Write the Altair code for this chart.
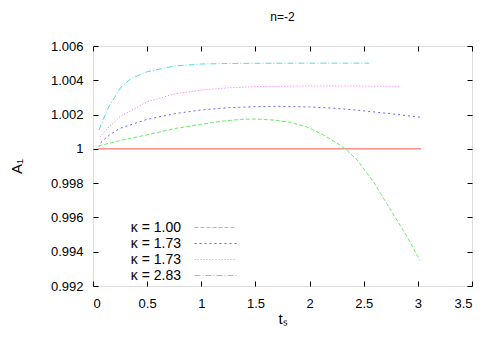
import altair as alt
import pandas as pd

# ---- data ----
green_t = [0.05, 0.25, 0.5, 0.75, 1.0, 1.2, 1.36, 1.5, 1.67, 1.82, 1.97, 2.13, 2.28, 2.33, 2.44, 2.59,
           2.74, 2.9, 3.02]
green_a = [1.00017, 1.00048, 1.00082, 1.00118, 1.00143, 1.00162, 1.00172, 1.00174, 1.00168, 1.00155,
           1.00129, 1.00081, 1.00022, 1.0, 0.99935, 0.99808, 0.99653, 0.99488, 0.99348]

blue_t = [0.07, 0.15, 0.25, 0.5, 0.75, 1.0, 1.25, 1.5, 1.75, 2.0, 2.2, 2.42, 2.75, 3.03]
blue_a = [1.00036, 1.0008, 1.0012, 1.00172, 1.00205, 1.00227, 1.0024, 1.00246, 1.00248, 1.00244, 1.00238,
          1.00227, 1.00205, 1.00184]

mag_t = [0.065, 0.15, 0.25, 0.5, 0.75, 1.0, 1.25, 1.5, 2.0, 2.5, 2.85]
mag_a = [1.00071, 1.0013, 1.00188, 1.00275, 1.0032, 1.00343, 1.00356, 1.00363, 1.00367, 1.00366, 1.00365]

cyan_t = [0.055, 0.1, 0.15, 0.25, 0.35, 0.5, 0.75, 1.0, 1.25, 1.5, 2.0, 2.55]
cyan_a = [1.0011, 1.0018, 1.0025, 1.00353, 1.0041, 1.0045, 1.00483, 1.00495, 1.00498, 1.00499, 1.005, 1.005]

red_t = [0.05, 3.03]
red_a = [1.0, 1.0]

series_keys = ["k1", "k2", "k3", "k4"]
series_labels = ["κ = 1.00", "κ = 1.73", "κ = 1.73", "κ = 2.83"]
series_colors = ["#66ee66", "#6666ff", "#ff66ff", "#55dddd"]
series_dash = [[4, 2], [2, 3], [1, 2], [6, 2, 1, 2]]

x_ticks = [0, 0.5, 1, 1.5, 2, 2.5, 3, 3.5]
y_ticks = [0.992, 0.994, 0.996, 0.998, 1.0, 1.002, 1.004, 1.006]

rows = []
for key, ts, As in zip(series_keys, [green_t, blue_t, mag_t, cyan_t], [green_a, blue_a, mag_a, cyan_a]):
    for t, a in zip(ts, As):
        rows.append({"ts": t, "A": a, "series": key})
df = pd.DataFrame(rows)
df_red = pd.DataFrame({"ts": red_t, "A": red_a})

FONT = "Liberation Sans"
xscale = alt.Scale(domain=[0, 3.5], nice=False, zero=False)
yscale = alt.Scale(domain=[0.992, 1.006], nice=False, zero=False)

label_expr = "[" + ",".join("'%s'" % s for s in series_labels) + "][indexof([" + \
    ",".join("'%s'" % k for k in series_keys) + "], datum.value)]"

common_axis = dict(domain=False, grid=False, tickColor="black", tickSize=5, tickWidth=1,
                   labelFont=FONT, labelFontSize=13, labelColor="black",
                   titleFont=FONT, titleFontSize=15, titleFontWeight="normal", titleColor="black")

red = alt.Chart(df_red).mark_line(color="#ff5555", strokeWidth=1).encode(
    x=alt.X("ts:Q", scale=xscale,
            axis=alt.Axis(values=x_ticks, format="~g", title="tₛ", orient="bottom", offset=-5,
                          labelPadding=11, titlePadding=1, **common_axis)),
    y=alt.Y("A:Q", scale=yscale,
            axis=alt.Axis(values=y_ticks, format=".3~f", title="A₁", orient="left", offset=-5,
                          labelPadding=10, titlePadding=26, **common_axis)),
)

lines = alt.Chart(df).mark_line(strokeWidth=1).encode(
    x=alt.X("ts:Q", scale=xscale,
            axis=alt.Axis(values=x_ticks, labels=False, title=None, orient="top", offset=-5, **common_axis)),
    y=alt.Y("A:Q", scale=yscale,
            axis=alt.Axis(values=y_ticks, labels=False, title=None, orient="right", offset=-5, **common_axis)),
    color=alt.Color("series:N", scale=alt.Scale(domain=series_keys, range=series_colors),
                    legend=alt.Legend(title=None, orient="none", legendX=101, legendY=174,
                                      symbolType="M-1,0H5", symbolSize=196, symbolStrokeWidth=1,
                                      labelExpr=label_expr, labelAlign="right",
                                      labelOffset={"expr": "-28"},
                                      labelFont=FONT, labelFontSize=14, labelColor="black",
                                      rowPadding=1)),
    strokeDash=alt.StrokeDash("series:N", scale=alt.Scale(domain=series_keys, range=series_dash),
                              legend=None),
    order="ts:Q",
)

chart = alt.layer(red, lines).resolve_axis(x="independent", y="independent").properties(
    width=379, height=240,
    title=alt.TitleParams("n=-2", font=FONT, fontSize=12, fontWeight="normal", color="black", offset=16),
    autosize=alt.AutoSizeParams(type="none"),
    padding={"left": 85, "top": 38, "right": 20, "bottom": 50},
).configure_view(stroke="black", strokeWidth=1).configure(background="white")

chart.save("out.html", embed_options={"renderer": "svg", "actions": False})
